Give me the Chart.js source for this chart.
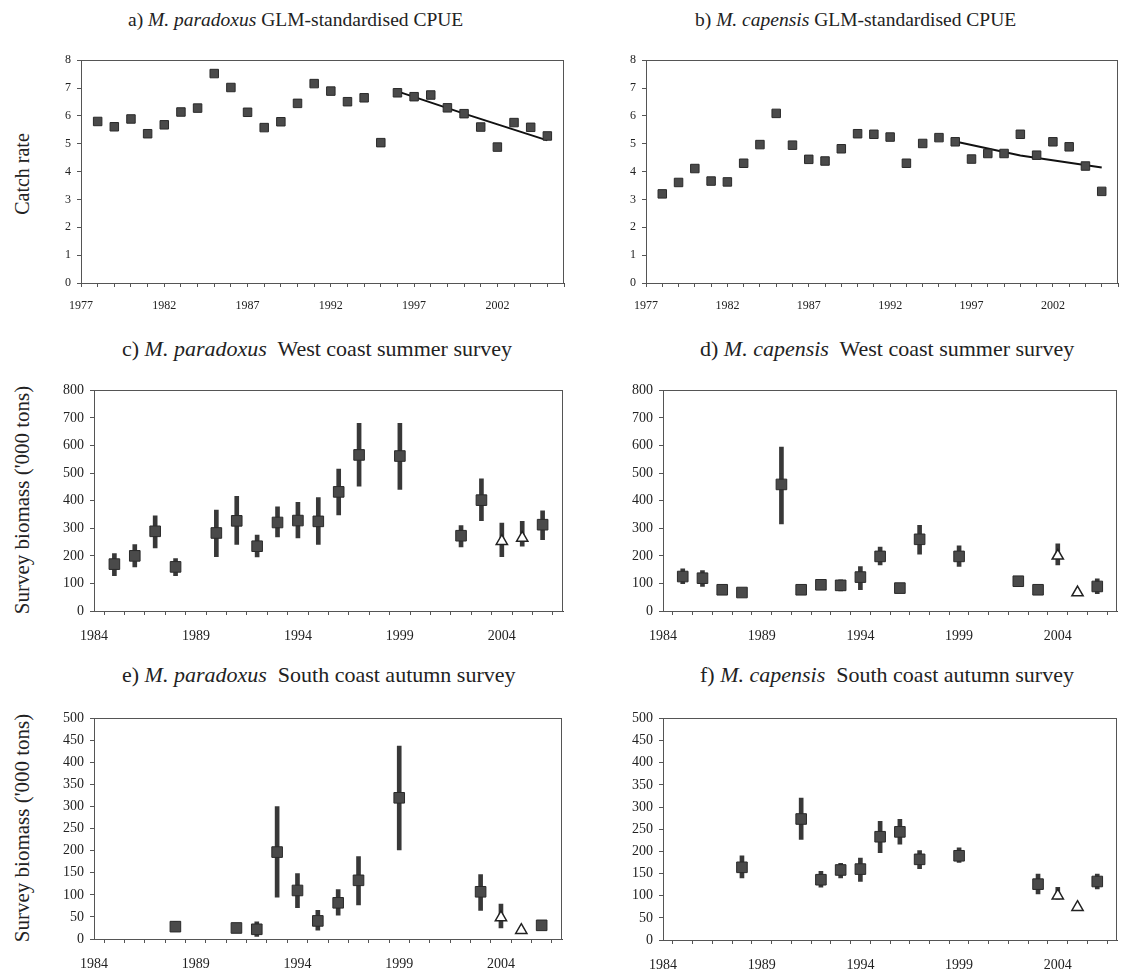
<!DOCTYPE html>
<html>
<head>
<meta charset="utf-8">
<script src="https://cdn.jsdelivr.net/npm/chart.js@4.4.0/dist/chart.umd.min.js"></script>
<style>
  body { margin: 0; background: #fff; width: 1130px; height: 977px; position: relative; overflow: hidden;
         font-family: "Liberation Serif", "Times New Roman", serif; color: #222; }
  .box { position: absolute; }
  .ttl { position: absolute; white-space: pre; }
  .ytl { position: absolute; white-space: nowrap; transform: translate(-50%, -50%) rotate(-90deg); }
</style>
</head>
<body>

<div class="ttl" style="left:128px; top:8px; font-size:19.5px; line-height:24px;">a) <i>M. paradoxus</i> GLM-standardised CPUE</div>
<div class="ttl" style="left:695px; top:8px; font-size:19.5px; line-height:24px;">b) <i>M. capensis</i> GLM-standardised CPUE</div>
<div class="ttl" style="left:122px; top:336px; font-size:22px; line-height:26px;">c) <i>M. paradoxus</i>  West coast summer survey</div>
<div class="ttl" style="left:700px; top:336px; font-size:22px; line-height:26px;">d) <i>M. capensis</i>  West coast summer survey</div>
<div class="ttl" style="left:122px; top:662px; font-size:22px; line-height:26px;">e) <i>M. paradoxus</i>  South coast autumn survey</div>
<div class="ttl" style="left:700px; top:662px; font-size:22px; line-height:26px;">f) <i>M. capensis</i>  South coast autumn survey</div>

<div class="ytl" style="left:22px; top:174px; font-size:20px;">Catch rate</div>
<div class="ytl" style="left:22px; top:500px; font-size:21px;">Survey biomass ('000 tons)</div>
<div class="ytl" style="left:22px; top:828px; font-size:21px;">Survey biomass ('000 tons)</div>

<script>
// GLM-standardised CPUE
const cpueYears = [1978, 1979, 1980, 1981, 1982, 1983, 1984, 1985, 1986, 1987, 1988, 1989, 1990, 1991,
                   1992, 1993, 1994, 1995, 1996, 1997, 1998, 1999, 2000, 2001, 2002, 2003, 2004, 2005];
const paraCpue = [5.80, 5.61, 5.89, 5.36, 5.68, 6.14, 6.28, 7.52, 7.02, 6.13, 5.58, 5.79, 6.45, 7.16,
                  6.89, 6.51, 6.65, 5.04, 6.83, 6.69, 6.75, 6.29, 6.08, 5.60, 4.88, 5.76, 5.59, 5.28];
const capCpue = [3.20, 3.61, 4.11, 3.66, 3.63, 4.30, 4.97, 6.09, 4.95, 4.44, 4.38, 4.82, 5.36, 5.34,
                 5.24, 4.30, 5.01, 5.22, 5.07, 4.45, 4.65, 4.65, 5.34, 4.59, 5.07, 4.89, 4.20, 3.29];
const trendYears = [1996, 2000, 2005];
const paraTrend = [6.88, 6.08, 5.12];
const capTrend = [5.08, 4.58, 4.15];

// surveys: open triangles mark these years
const triangleYears = [2004, 2005];

const wcParaYears = [1985, 1986, 1987, 1988, 1990, 1991, 1992, 1993, 1994, 1995, 1996, 1997, 1999, 2002, 2003, 2004, 2005, 2006];
const wcParaMean  = [170, 200, 289, 160, 283, 327, 235, 321, 328, 325, 432, 566, 562, 273, 402, 253, 265, 313];
const wcParaLo    = [128, 160, 229, 128, 197, 241, 196, 269, 265, 241, 348, 453, 441, 232, 328, 197, 235, 259];
const wcParaHi    = [208, 241, 345, 190, 366, 416, 275, 378, 394, 411, 515, 681, 681, 310, 479, 319, 325, 363];

const wcCapYears = [1985, 1986, 1987, 1988, 1990, 1991, 1992, 1993, 1994, 1995, 1996, 1997, 1999, 2002, 2003, 2004, 2005, 2006];
const wcCapMean  = [125, 119, 77, 67, 459, 77, 95, 93, 123, 198, 83, 260, 198, 108, 77, 200, 67, 89];
const wcCapLo    = [99, 89, 62, 53, 316, 64, 77, 73, 77, 167, 70, 206, 162, 89, 64, 167, null, 63];
const wcCapHi    = [153, 147, 89, 77, 594, 89, 111, 113, 161, 232, 96, 311, 236, 125, 89, 244, null, 117];

const scParaYears = [1988, 1991, 1992, 1993, 1994, 1995, 1996, 1997, 1999, 2003, 2004, 2005, 2006];
const scParaMean  = [28, 25, 22, 197, 110, 41, 82, 133, 320, 107, 49, 20, 31];
const scParaLo    = [17, 18, 6, 95, 71, 20, 54, 77, 202, 65, 25, null, 24];
const scParaHi    = [39, 32, 39, 300, 148, 65, 112, 187, 437, 146, 79, null, 38];

const scCapYears = [1988, 1991, 1992, 1993, 1994, 1995, 1996, 1997, 1999, 2003, 2004, 2005, 2006];
const scCapMean  = [164, 273, 136, 158, 160, 233, 244, 182, 190, 126, 100, 74, 132];
const scCapLo    = [140, 227, 119, 140, 132, 197, 216, 161, 175, 104, 92, null, 115];
const scCapHi    = [190, 320, 155, 173, 185, 268, 272, 202, 208, 149, 119, null, 149];

const serif = "'Liberation Serif', 'Times New Roman', serif";
Chart.defaults.font.family = serif;

// box round the plot area
const frameBox = {
  id: 'frameBox',
  afterDraw(chart) {
    const a = chart.chartArea, c = chart.ctx;
    c.save();
    c.strokeStyle = '#555';
    c.lineWidth = 1;
    c.strokeRect(Math.round(a.left) + 0.5, Math.round(a.top) + 0.5,
                 Math.round(a.right - a.left) - 1, Math.round(a.bottom - a.top));
    c.restore();
  }
};

function pts(xs, ys) {
  return xs.map((x, i) => ({ x: x, y: ys[i] }));
}

// squares; survey panels leave the triangle years out
function squareSet(xs, ys, r, skipTriangles) {
  const d = [];
  xs.forEach((x, i) => {
    if (!(skipTriangles && triangleYears.includes(x))) d.push({ x: x, y: ys[i] });
  });
  return { type: 'scatter', data: d, pointStyle: 'rect', pointRadius: r, pointHoverRadius: r,
           backgroundColor: '#4a4a4a', borderColor: '#2a2a2a', borderWidth: 1, order: 0 };
}

function triangleSet(xs, ys) {
  const d = [];
  xs.forEach((x, i) => { if (triangleYears.includes(x)) d.push({ x: x, y: ys[i] }); });
  return { type: 'scatter', data: d, pointStyle: 'triangle', pointRadius: 6.5, pointHoverRadius: 6.5,
           backgroundColor: '#fff', borderColor: '#222', borderWidth: 1.5, order: 0 };
}

function errorSet(xs, lo, hi) {
  const d = [];
  xs.forEach((x, i) => { if (lo[i] != null) d.push({ x: x, y: [lo[i], hi[i]] }); });
  return { type: 'bar', data: d, barThickness: 4, backgroundColor: '#383838', borderWidth: 0, order: 2 };
}

function trendSet(xs, ys) {
  return { type: 'line', data: pts(xs, ys), showLine: true, borderColor: '#111', borderWidth: 2,
           pointRadius: 0, fill: false, order: 1 };
}

const charts = [];

function makePanel(p) {
  const padL = 60, padT = 12, padB = 40, padR = p.padR;
  const w = p.box[2] - p.box[0] + padL + padR;
  const h = p.box[3] - p.box[1] + padT + padB;
  const wrap = document.createElement('div');
  wrap.className = 'box';
  wrap.style.left = (p.box[0] - padL) + 'px';
  wrap.style.top = (p.box[1] - padT) + 'px';
  const cv = document.createElement('canvas');
  cv.width = w; cv.height = h;
  cv.style.width = w + 'px'; cv.style.height = h + 'px';
  wrap.appendChild(cv);
  document.body.appendChild(wrap);

  const tickFont = { family: serif, size: p.fs };
  charts.push(new Chart(cv, {
    type: 'scatter',
    data: { datasets: p.datasets },
    options: {
      responsive: false,
      animation: false,
      layout: { padding: { left: 0, top: padT, right: padR, bottom: 0 } },
      plugins: { legend: { display: false }, tooltip: { enabled: false } },
      scales: {
        x: {
          type: 'linear', min: p.xMin, max: p.xMax, offset: false,
          afterFit: s => { s.height = padB; },
          grid: { drawOnChartArea: false, drawTicks: true, tickLength: 4, color: '#555' },
          border: { color: '#444', width: 1 },
          ticks: {
            stepSize: 1, autoSkip: false, maxRotation: 0, minRotation: 0,
            padding: p.xPad, color: '#222', font: tickFont,
            callback: v => ((v - p.xMin) % 5 === 0 ? String(v) : '')
          }
        },
        y: {
          min: 0, max: p.yMax,
          afterFit: s => { s.width = padL; },
          grid: { drawOnChartArea: false, drawTicks: true, tickLength: 4, color: '#555' },
          border: { color: '#444', width: 1 },
          ticks: { stepSize: p.yStep, padding: 6, color: '#222', font: tickFont }
        }
      }
    },
    plugins: [frameBox]
  }));
}

makePanel({
  box: [81, 59, 564, 283], padR: 12, xMin: 1977, xMax: 2006, yMax: 8, yStep: 1, fs: 12, xPad: 12,
  datasets: [squareSet(cpueYears, paraCpue, 6, false), trendSet(trendYears, paraTrend)]
});
makePanel({
  box: [646, 59, 1128, 283], padR: 2, xMin: 1977, xMax: 2006, yMax: 8, yStep: 1, fs: 12, xPad: 12,
  datasets: [squareSet(cpueYears, capCpue, 6, false), trendSet(trendYears, capTrend)]
});
makePanel({
  box: [94, 388, 564, 611], padR: 12, xMin: 1984, xMax: 2007, yMax: 800, yStep: 100, fs: 14, xPad: 13,
  datasets: [squareSet(wcParaYears, wcParaMean, 7.5, true), triangleSet(wcParaYears, wcParaMean),
             errorSet(wcParaYears, wcParaLo, wcParaHi)]
});
makePanel({
  box: [663, 388, 1128, 611], padR: 2, xMin: 1984, xMax: 2007, yMax: 800, yStep: 100, fs: 14, xPad: 13,
  datasets: [squareSet(wcCapYears, wcCapMean, 7.5, true), triangleSet(wcCapYears, wcCapMean),
             errorSet(wcCapYears, wcCapLo, wcCapHi)]
});
makePanel({
  box: [94, 716, 563, 939], padR: 12, xMin: 1984, xMax: 2007, yMax: 500, yStep: 50, fs: 14, xPad: 13,
  datasets: [squareSet(scParaYears, scParaMean, 7.5, true), triangleSet(scParaYears, scParaMean),
             errorSet(scParaYears, scParaLo, scParaHi)]
});
makePanel({
  box: [663, 716, 1128, 940], padR: 2, xMin: 1984, xMax: 2007, yMax: 500, yStep: 50, fs: 14, xPad: 13,
  datasets: [squareSet(scCapYears, scCapMean, 7.5, true), triangleSet(scCapYears, scCapMean),
             errorSet(scCapYears, scCapLo, scCapHi)]
});

// redraw once the serif face is surely available to the canvas
document.fonts.load("14px 'Liberation Serif'").then(() => charts.forEach(c => c.update()));
</script>
</body>
</html>
